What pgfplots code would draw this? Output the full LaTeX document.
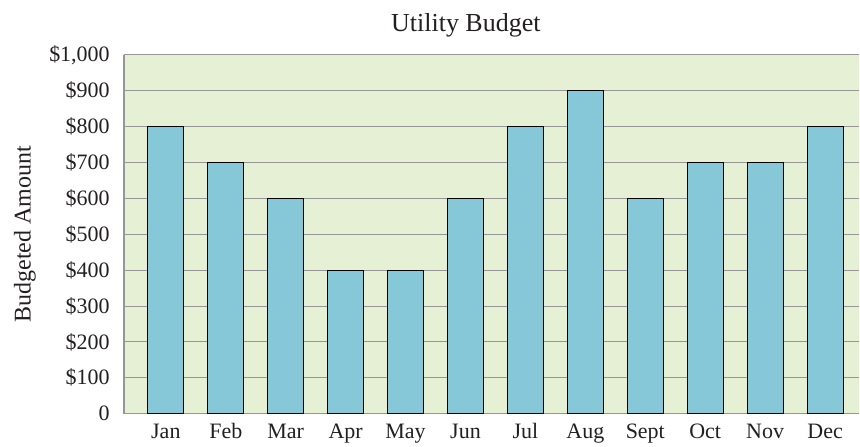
\documentclass[border=0pt]{standalone}
\usepackage{fontspec}
\setmainfont{Liberation Serif}
\usepackage{pgfplots}
\pgfplotsset{compat=1.18}
\definecolor{bg}{RGB}{229,240,213}
\definecolor{barc}{RGB}{134,200,216}
\definecolor{gridc}{RGB}{150,150,150}
\definecolor{txt}{RGB}{35,31,32}
\begin{document}
\begin{tikzpicture}
\begin{axis}[
  scale only axis, width=736pt, height=359pt,
  xmin=-0.7, xmax=11.57, ymin=0, ymax=1000,
  axis background/.style={fill=bg},
  axis x line*=bottom, axis y line*=left,
  axis line style={gridc, line width=1.5pt, -},
  ybar, bar width=0.6,
  ytick={0,100,...,1000},
  yticklabels={0,\$100,\$200,\$300,\$400,\$500,\$600,\$700,\$800,\$900,{\$1,000}},
  ymajorgrids, grid style={gridc, line width=1pt},
  xtick={0,...,11},
  xticklabels={Jan,Feb,Mar,Apr,May,Jun,Jul,Aug,Sept,Oct,Nov,Dec},
  major tick length=0pt,
  font=\fontsize{22}{26}\selectfont,
  tick label style={text=txt},
  xticklabel style={anchor=base, yshift=-25pt},
  yticklabel style={anchor=east, inner sep=0pt, xshift=-14pt},
  title={Utility Budget},
  title style={text=txt, font=\fontsize{26}{30}\selectfont, at={(axis description cs:0.465,1)}, anchor=base, yshift=17pt},
  ylabel={Budgeted Amount},
  ylabel style={text=txt, font=\fontsize{24}{28}\selectfont, at={(axis description cs:0,0.5)}, anchor=center, xshift=0pt, yshift=99pt},
]
\addplot[fill=barc, draw=black, line width=1pt] coordinates {
  (0,800) (1,700) (2,600) (3,400) (4,400) (5,600)
  (6,800) (7,900) (8,600) (9,700) (10,700) (11,800)};
\end{axis}
\path (current axis.south west) ++(-124pt,-29pt) rectangle ++(860pt,443pt);
\end{tikzpicture}
\end{document}
